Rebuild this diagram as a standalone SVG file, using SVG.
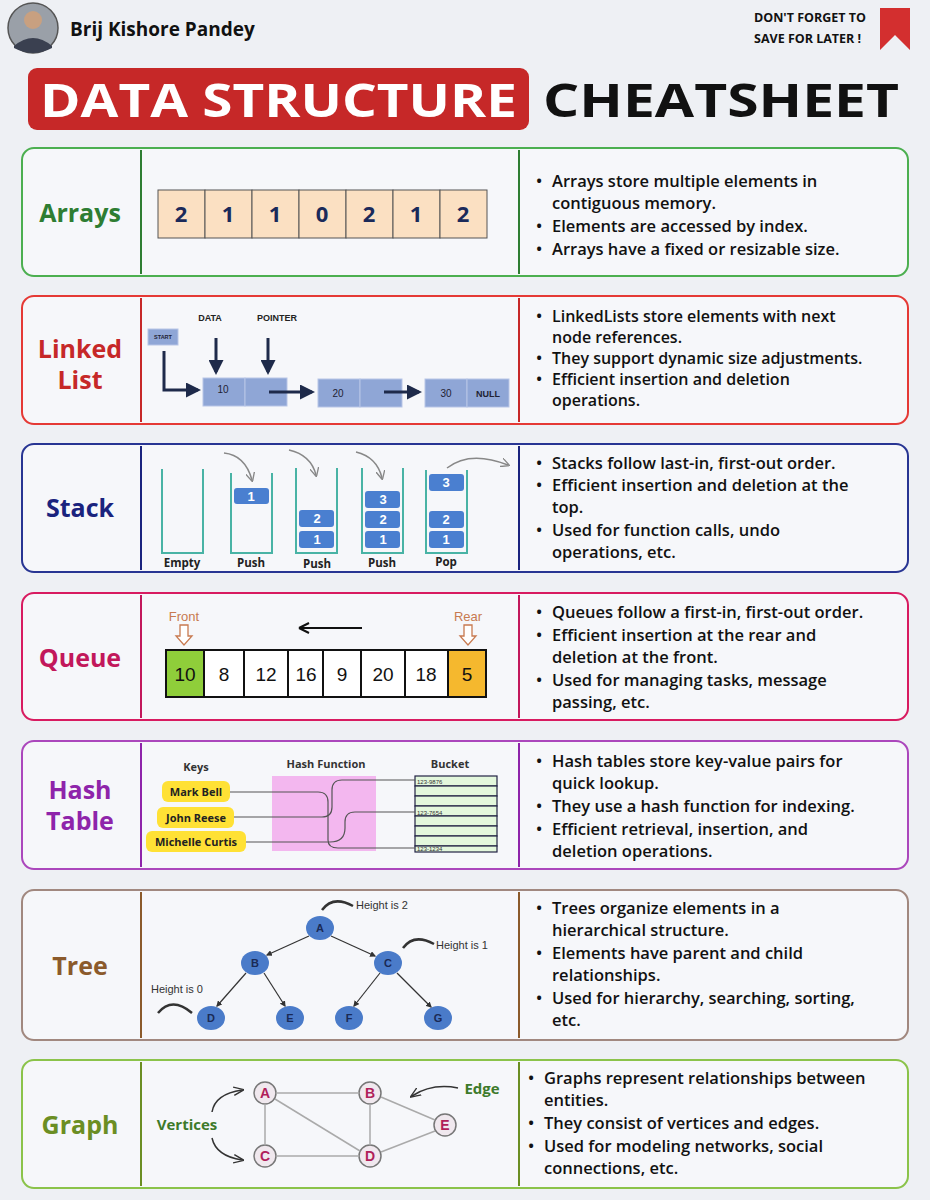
<svg xmlns="http://www.w3.org/2000/svg" width="930" height="1200" viewBox="0 0 930 1200">
<defs>
<style>
.t{font-family:"Open Sans","Liberation Sans",sans-serif;font-weight:700}
.b{font-family:"Open Sans","Liberation Sans",sans-serif;font-weight:600;font-size:16.5px;fill:#111}
.panel{fill:#f6f7fa;stroke-width:2}
.div{stroke-width:2}
.ll{fill:#8fa6d6;stroke:#b7c5e6}
.sk{fill:none;stroke:#49b3a5;stroke-width:2}
.blk{fill:#4a7fd0}
.bn{font-family:"Liberation Sans",sans-serif;font-weight:700;font-size:13px;fill:#fff;text-anchor:middle}
.tn{fill:#4a7bc9}
.tl{font-family:"Liberation Sans",sans-serif;font-size:11px;fill:#333}
.gn{fill:#f0e8ee;stroke:#777;stroke-width:1.5}
.gl{font-family:"Liberation Sans",sans-serif;font-weight:700;font-size:14px;fill:#b0205a;text-anchor:middle}
</style>
<marker id="ah" viewBox="0 0 10 10" refX="8" refY="5" markerWidth="5" markerHeight="5" orient="auto"><path d="M0,0L10,5L0,10z" fill="#1e2a4a"/></marker>
<marker id="ag" viewBox="0 0 10 10" refX="8" refY="5" markerWidth="6" markerHeight="6" orient="auto"><path d="M0,0L10,5L0,10" fill="none" stroke="#888" stroke-width="1.5"/></marker>
<marker id="at" viewBox="0 0 10 10" refX="8" refY="5" markerWidth="5" markerHeight="5" orient="auto"><path d="M0,0L10,5L0,10z" fill="#333"/></marker>
<marker id="av" viewBox="0 0 10 10" refX="8" refY="5" markerWidth="7" markerHeight="7" orient="auto"><path d="M0,1L10,5L0,9" fill="none" stroke="#333" stroke-width="1.3"/></marker>
</defs>
<rect width="930" height="1200" fill="#eef0f4"/>
<g id="header">
<circle cx="33" cy="28" r="25" fill="#9aa0a8" stroke="#555" stroke-width="1.5"/>
<circle cx="33" cy="20" r="9" fill="#c8a080"/>
<path d="M14,46 Q33,30 52,46 L52,48 Q33,58 14,48z" fill="#3a4050"/>
<text x="70" y="36" class="t" font-size="19" fill="#111">Brij Kishore Pandey</text>
<text x="754" y="22" class="t" font-size="12.5" fill="#111">DON'T FORGET TO</text>
<text x="754" y="43" class="t" font-size="12.5" fill="#111">SAVE FOR LATER !</text>
<path d="M880,8 H910 V50 L895,35 L880,50z" fill="#d32f2f"/>
<rect x="28" y="68" width="501" height="62" rx="9" fill="#c62828"/>
<text x="40" y="117" class="t" font-size="46" fill="#fff" textLength="477" lengthAdjust="spacingAndGlyphs">DATA STRUCTURE</text>
<text x="543" y="117" class="t" font-size="46" fill="#111" textLength="356" lengthAdjust="spacingAndGlyphs">CHEATSHEET</text>
</g>
<g id="arrays">
<rect x="22" y="148" width="886" height="128" rx="12" class="panel" stroke="#4caf50"/>
<line x1="141" y1="150" x2="141" y2="274" stroke="#2e7d32" class="div"/>
<line x1="519" y1="150" x2="519" y2="274" stroke="#2e7d32" class="div"/>
<text x="80" y="222" class="t" font-size="25" fill="#2e7d32" text-anchor="middle">Arrays</text>
<g fill="#fbe0c2" stroke="#555">
<rect x="158" y="190" width="47" height="48"/><rect x="205" y="190" width="47" height="48"/><rect x="252" y="190" width="47" height="48"/><rect x="299" y="190" width="47" height="48"/><rect x="346" y="190" width="47" height="48"/><rect x="393" y="190" width="47" height="48"/><rect x="440" y="190" width="47" height="48"/>
</g>
<g class="t" font-size="22" fill="#1a2a5a" text-anchor="middle">
<text x="181" y="222">2</text><text x="228" y="222">1</text><text x="275" y="222">1</text><text x="322" y="222">0</text><text x="369" y="222">2</text><text x="416" y="222">1</text><text x="463" y="222">2</text>
</g>
<text class="b"><tspan x="536" y="187">•</tspan><tspan x="536" y="232">•</tspan><tspan x="536" y="255">•</tspan></text>
<text class="b"><tspan x="552" y="187">Arrays store multiple elements in</tspan><tspan x="552" y="209">contiguous memory.</tspan><tspan x="552" y="232">Elements are accessed by index.</tspan><tspan x="552" y="255">Arrays have a fixed or resizable size.</tspan></text>
</g>
<g id="linkedlist">
<rect x="22" y="296" width="886" height="128" rx="12" class="panel" stroke="#e53935"/>
<line x1="141" y1="298" x2="141" y2="422" stroke="#c62828" class="div"/>
<line x1="519" y1="298" x2="519" y2="422" stroke="#c62828" class="div"/>
<text x="80" y="358" class="t" font-size="25" fill="#c62828" text-anchor="middle">Linked</text>
<text x="80" y="389" class="t" font-size="25" fill="#c62828" text-anchor="middle">List</text>
<rect x="148" y="329" width="30" height="16" class="ll"/>
<text x="163" y="339" font-family="Liberation Sans,sans-serif" font-size="5.5" text-anchor="middle" font-weight="700" fill="#223">START</text>
<text x="210" y="321" font-family="Liberation Sans,sans-serif" font-size="9" text-anchor="middle" font-weight="700" fill="#222">DATA</text>
<text x="277" y="321" font-family="Liberation Sans,sans-serif" font-size="9" text-anchor="middle" font-weight="700" fill="#222">POINTER</text>
<rect x="203" y="378" width="42" height="28" class="ll"/><rect x="245" y="378" width="42" height="28" class="ll"/>
<rect x="318" y="379" width="42" height="28" class="ll"/><rect x="360" y="379" width="42" height="28" class="ll"/>
<rect x="425" y="379" width="42" height="28" class="ll"/><rect x="467" y="379" width="42" height="28" class="ll"/>
<g font-family="Liberation Sans,sans-serif" font-size="10" text-anchor="middle" fill="#223"><text x="223" y="393">10</text><text x="338" y="397">20</text><text x="446" y="397">30</text><text x="488" y="397" font-weight="700" font-size="9">NULL</text></g>
<text class="b" font-size="16"><tspan x="536" y="322">•</tspan><tspan x="536" y="364">•</tspan><tspan x="536" y="385">•</tspan></text>
<text class="b" style="font-size:16px"><tspan x="552" y="322">LinkedLists store elements with next</tspan><tspan x="552" y="343">node references.</tspan><tspan x="552" y="364">They support dynamic size adjustments.</tspan><tspan x="552" y="385">Efficient insertion and deletion</tspan><tspan x="552" y="406">operations.</tspan></text>
</g>
<g id="stack">
<rect x="22" y="444" width="886" height="128" rx="12" class="panel" stroke="#283593"/>
<line x1="141" y1="446" x2="141" y2="570" stroke="#1a237e" class="div"/>
<line x1="519" y1="446" x2="519" y2="570" stroke="#1a237e" class="div"/>
<text x="80" y="517" class="t" font-size="25" fill="#1a237e" text-anchor="middle">Stack</text>
<path class="sk" d="M162,469V553H203V469"/>
<path class="sk" d="M231,473V553H272V473"/>
<path class="sk" d="M296,468V553H337V468"/>
<path class="sk" d="M362,468V553H403V468"/>
<path class="sk" d="M426,470V553H467V470"/>
<rect class="blk" x="234" y="488" width="35" height="16" rx="3"/><text class="bn" x="251" y="501">1</text>
<rect class="blk" x="299" y="510" width="35" height="17" rx="3"/><text class="bn" x="317" y="523">2</text>
<rect class="blk" x="299" y="531" width="35" height="17" rx="3"/><text class="bn" x="317" y="544">1</text>
<rect class="blk" x="365" y="491" width="35" height="17" rx="3"/><text class="bn" x="383" y="504">3</text>
<rect class="blk" x="365" y="511" width="35" height="17" rx="3"/><text class="bn" x="383" y="524">2</text>
<rect class="blk" x="365" y="531" width="35" height="17" rx="3"/><text class="bn" x="383" y="544">1</text>
<rect class="blk" x="429" y="474" width="35" height="17" rx="3"/><text class="bn" x="446" y="487">3</text>
<rect class="blk" x="429" y="511" width="35" height="17" rx="3"/><text class="bn" x="446" y="524">2</text>
<rect class="blk" x="429" y="531" width="35" height="17" rx="3"/><text class="bn" x="446" y="544">1</text>
<g class="t" font-size="11.5" fill="#222" text-anchor="middle"><text x="182" y="567">Empty</text><text x="251" y="567">Push</text><text x="317" y="568">Push</text><text x="382" y="567">Push</text><text x="446" y="566">Pop</text></g>
<text class="b"><tspan x="536" y="469">•</tspan><tspan x="536" y="491">•</tspan><tspan x="536" y="536">•</tspan></text>
<text class="b"><tspan x="552" y="469">Stacks follow last-in, first-out order.</tspan><tspan x="552" y="491">Efficient insertion and deletion at the</tspan><tspan x="552" y="513">top.</tspan><tspan x="552" y="536">Used for function calls, undo</tspan><tspan x="552" y="558">operations, etc.</tspan></text>
</g>
<g id="queue">
<rect x="22" y="593" width="886" height="127" rx="12" class="panel" stroke="#d81b60"/>
<line x1="141" y1="595" x2="141" y2="718" stroke="#c2185b" class="div"/>
<line x1="519" y1="595" x2="519" y2="718" stroke="#c2185b" class="div"/>
<text x="80" y="667" class="t" font-size="25" fill="#c2185b" text-anchor="middle">Queue</text>
<text x="184" y="621" font-family="Liberation Sans,sans-serif" font-size="13" fill="#c87a50" text-anchor="middle">Front</text>
<text x="468" y="621" font-family="Liberation Sans,sans-serif" font-size="13" fill="#c87a50" text-anchor="middle">Rear</text>
<path d="M180,625H188V636H192L184,645L176,636H180z" fill="#fff" stroke="#c87a50" stroke-width="1.3"/>
<path d="M464,625H472V636H476L468,645L460,636H464z" fill="#fff" stroke="#c87a50" stroke-width="1.3"/>
<line x1="362" y1="628" x2="300" y2="628" stroke="#111" stroke-width="2"/>
<path d="M299,628L309,623M299,628L309,633" stroke="#111" stroke-width="2"/>
<g stroke="#111" stroke-width="2" fill="#fff">
<rect x="166" y="650" width="38" height="47" fill="#8fce3a"/><rect x="204" y="650" width="40" height="47"/><rect x="244" y="650" width="44" height="47"/><rect x="288" y="650" width="35" height="47"/><rect x="323" y="650" width="38" height="47"/><rect x="361" y="650" width="44" height="47"/><rect x="405" y="650" width="43" height="47"/><rect x="448" y="650" width="38" height="47" fill="#f5b82e"/>
</g>
<g font-family="Liberation Sans,sans-serif" font-size="19" fill="#111" text-anchor="middle">
<text x="185" y="681">10</text><text x="224" y="681">8</text><text x="266" y="681">12</text><text x="306" y="681">16</text><text x="342" y="681">9</text><text x="383" y="681">20</text><text x="426" y="681">18</text><text x="467" y="681">5</text>
</g>
<text class="b"><tspan x="536" y="618">•</tspan><tspan x="536" y="641">•</tspan><tspan x="536" y="686">•</tspan></text>
<text class="b"><tspan x="552" y="618">Queues follow a first-in, first-out order.</tspan><tspan x="552" y="641">Efficient insertion at the rear and</tspan><tspan x="552" y="663">deletion at the front.</tspan><tspan x="552" y="686">Used for managing tasks, message</tspan><tspan x="552" y="708">passing, etc.</tspan></text>
</g>
<g id="hashtable">
<rect x="22" y="741" width="886" height="128" rx="12" class="panel" stroke="#ab47bc"/>
<line x1="141" y1="743" x2="141" y2="867" stroke="#8e24aa" class="div"/>
<line x1="519" y1="743" x2="519" y2="867" stroke="#8e24aa" class="div"/>
<text x="80" y="799" class="t" font-size="25" fill="#8e24aa" text-anchor="middle">Hash</text>
<text x="80" y="830" class="t" font-size="25" fill="#8e24aa" text-anchor="middle">Table</text>
<text x="196" y="771" class="t" font-size="11" fill="#333" text-anchor="middle">Keys</text>
<text x="326" y="768" class="t" font-size="11" fill="#333" text-anchor="middle">Hash Function</text>
<text x="450" y="768" class="t" font-size="11" fill="#333" text-anchor="middle">Bucket</text>
<rect x="272" y="776" width="104" height="75" fill="#f3b7ef"/>
<rect x="162" y="781" width="68" height="21" rx="6" fill="#ffe135"/>
<rect x="157" y="807" width="77" height="21" rx="6" fill="#ffe135"/>
<rect x="146" y="831" width="100" height="21" rx="6" fill="#ffe135"/>
<g class="t" font-size="11" fill="#222" text-anchor="middle"><text x="196" y="796">Mark Bell</text><text x="196" y="822">John Reese</text><text x="196" y="846">Michelle Curtis</text></g>
<g fill="#e3f7dc" stroke="#224" stroke-width="1.2">
<rect x="415" y="776" width="82" height="10"/><rect x="415" y="786" width="82" height="10"/><rect x="415" y="796" width="82" height="10"/><rect x="415" y="806" width="82" height="10"/><rect x="415" y="816" width="82" height="10"/><rect x="415" y="826" width="82" height="10"/><rect x="415" y="836" width="82" height="10"/><rect x="415" y="846" width="82" height="6"/>
</g>
<g font-family="Liberation Sans,sans-serif" font-size="6" fill="#333"><text x="417" y="784">123-9876</text><text x="417" y="815">123-7654</text><text x="417" y="851">123-1234</text></g>
<text class="b"><tspan x="536" y="767">•</tspan><tspan x="536" y="812">•</tspan><tspan x="536" y="835">•</tspan></text>
<text class="b"><tspan x="552" y="767">Hash tables store key-value pairs for</tspan><tspan x="552" y="789">quick lookup.</tspan><tspan x="552" y="812">They use a hash function for indexing.</tspan><tspan x="552" y="835">Efficient retrieval, insertion, and</tspan><tspan x="552" y="857">deletion operations.</tspan></text>
</g>
<g id="tree">
<rect x="22" y="890" width="886" height="150" rx="12" class="panel" stroke="#a1887f"/>
<line x1="141" y1="892" x2="141" y2="1038" stroke="#8b5a2b" class="div"/>
<line x1="519" y1="892" x2="519" y2="1038" stroke="#8b5a2b" class="div"/>
<text x="80" y="975" class="t" font-size="25" fill="#8b5a2b" text-anchor="middle">Tree</text>
<g class="tn"><ellipse cx="320" cy="928" rx="14" ry="12"/><ellipse cx="255" cy="963" rx="14" ry="12"/><ellipse cx="388" cy="963" rx="14" ry="12"/><ellipse cx="211" cy="1018" rx="14" ry="12"/><ellipse cx="290" cy="1018" rx="14" ry="12"/><ellipse cx="349" cy="1018" rx="14" ry="12"/><ellipse cx="438" cy="1018" rx="14" ry="12"/></g>
<g font-family="Liberation Sans,sans-serif" font-weight="700" font-size="11" fill="#1a2a55" text-anchor="middle"><text x="320" y="932">A</text><text x="255" y="967">B</text><text x="388" y="967">C</text><text x="211" y="1022">D</text><text x="290" y="1022">E</text><text x="349" y="1022">F</text><text x="438" y="1022">G</text></g>
<text class="tl" x="356" y="909">Height is 2</text>
<text class="tl" x="436" y="949">Height is 1</text>
<text class="tl" x="151" y="993">Height is 0</text>
<text class="b"><tspan x="536" y="914">•</tspan><tspan x="536" y="959">•</tspan><tspan x="536" y="1004">•</tspan></text>
<text class="b"><tspan x="552" y="914">Trees organize elements in a</tspan><tspan x="552" y="936">hierarchical structure.</tspan><tspan x="552" y="959">Elements have parent and child</tspan><tspan x="552" y="981">relationships.</tspan><tspan x="552" y="1004">Used for hierarchy, searching, sorting,</tspan><tspan x="552" y="1026">etc.</tspan></text>
</g>
<g id="graph">
<rect x="22" y="1060" width="886" height="128" rx="12" class="panel" stroke="#8bc34a"/>
<line x1="141" y1="1062" x2="141" y2="1186" stroke="#6b8e23" class="div"/>
<line x1="519" y1="1062" x2="519" y2="1186" stroke="#6b8e23" class="div"/>
<text x="80" y="1134" class="t" font-size="25" fill="#6b8e23" text-anchor="middle">Graph</text>
<g class="gn"><circle cx="265" cy="1093" r="11"/><circle cx="370" cy="1093" r="11"/><circle cx="445" cy="1125" r="11"/><circle cx="265" cy="1156" r="11"/><circle cx="370" cy="1156" r="11"/></g>
<g class="gl"><text x="265" y="1098">A</text><text x="370" y="1098">B</text><text x="445" y="1130">E</text><text x="265" y="1161">C</text><text x="370" y="1161">D</text></g>
<text x="187" y="1130" class="t" font-size="15" fill="#3d7a2a" text-anchor="middle">Vertices</text>
<text x="482" y="1094" class="t" font-size="15" fill="#3d7a2a" text-anchor="middle">Edge</text>
<text class="b"><tspan x="528" y="1084">•</tspan><tspan x="528" y="1129">•</tspan><tspan x="528" y="1152">•</tspan></text>
<text class="b"><tspan x="544" y="1084">Graphs represent relationships between</tspan><tspan x="544" y="1106">entities.</tspan><tspan x="544" y="1129">They consist of vertices and edges.</tspan><tspan x="544" y="1152">Used for modeling networks, social</tspan><tspan x="544" y="1174">connections, etc.</tspan></text>
</g>
<g id="connectors" fill="none">
<g stroke="#1e2a4a" stroke-width="3">
<path d="M164,351V390H198" marker-end="url(#ah)"/>
<path d="M216,338V372" marker-end="url(#ah)"/>
<path d="M268,338V372" marker-end="url(#ah)"/>
<path d="M269,392H312" marker-end="url(#ah)"/>
<path d="M384,392H419" marker-end="url(#ah)"/>
</g>
<g stroke="#888" stroke-width="1.5">
<path d="M224,453Q245,455 252,480" marker-end="url(#ag)"/>
<path d="M289,450Q311,455 316,475" marker-end="url(#ag)"/>
<path d="M356,452Q377,457 382,478" marker-end="url(#ag)"/>
<path d="M447,468Q470,450 508,465" marker-end="url(#ag)"/>
</g>
<g stroke="#555" stroke-width="1.2">
<path d="M230,792H318Q328,792 328,802V840Q328,848 338,848H415"/>
<path d="M234,817H322Q332,817 332,807V790Q332,780 342,780H415"/>
<path d="M246,842H330Q345,842 345,828V822Q345,812 355,812H415"/>
</g>
<g stroke="#333" stroke-width="1.2">
<line x1="309" y1="936" x2="267" y2="955" marker-end="url(#at)"/>
<line x1="331" y1="936" x2="375" y2="956" marker-end="url(#at)"/>
<line x1="246" y1="973" x2="217" y2="1006" marker-end="url(#at)"/>
<line x1="264" y1="973" x2="285" y2="1006" marker-end="url(#at)"/>
<line x1="380" y1="973" x2="354" y2="1006" marker-end="url(#at)"/>
<line x1="397" y1="973" x2="431" y2="1007" marker-end="url(#at)"/>
<path d="M322,910Q333,895 353,906" stroke-width="2.5"/>
<path d="M403,948Q414,933 434,944" stroke-width="2.5"/>
<path d="M158,1013Q172,996 192,1013" stroke-width="2.5"/>
</g>
<g stroke="#aaa" stroke-width="1.5">
<line x1="276" y1="1093" x2="359" y2="1093"/>
<line x1="265" y1="1104" x2="265" y2="1145"/>
<line x1="275" y1="1099" x2="360" y2="1151"/>
<line x1="370" y1="1104" x2="370" y2="1145"/>
<line x1="276" y1="1156" x2="359" y2="1156"/>
<line x1="381" y1="1097" x2="435" y2="1120"/>
<line x1="381" y1="1152" x2="435" y2="1131"/>
</g>
<g stroke="#333" stroke-width="1.5">
<path d="M212,1112Q215,1094 242,1090" marker-end="url(#av)"/>
<path d="M212,1138Q216,1156 242,1160" marker-end="url(#av)"/>
<path d="M458,1088Q432,1083 412,1096" marker-end="url(#av)"/>
</g>
</g>
</svg>
